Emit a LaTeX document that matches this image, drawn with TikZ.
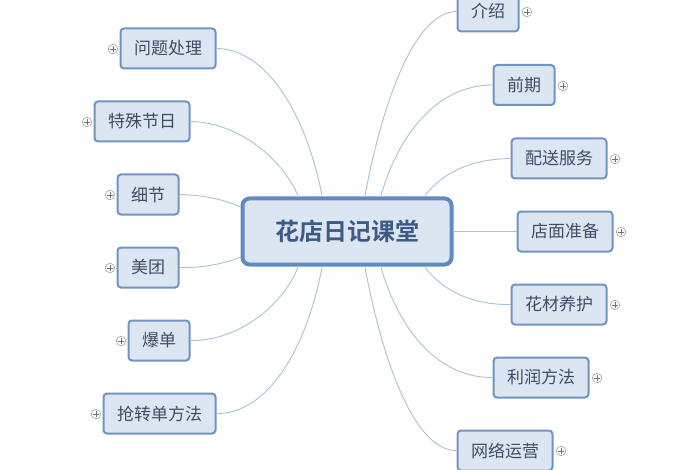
\documentclass[tikz,border=0pt]{standalone}
\usepackage{fontspec}
\newfontfamily\cjk{Noto Sans CJK SC}
\newfontfamily\cjkb{Noto Sans CJK SC Bold}
\definecolor{nfill}{HTML}{DCE6F2}
\definecolor{nedge}{HTML}{6F94C0}
\definecolor{cedge}{HTML}{5F8AC2}
\definecolor{ntext}{HTML}{3F4C66}
\definecolor{ctext}{HTML}{3D5A85}
\definecolor{wire}{HTML}{A8C0DA}
\definecolor{mark}{HTML}{9AA3AE}
\tikzset{
  x=1pt,y=-1pt,
  topic/.style={draw=nedge,line width=2pt,fill=nfill,rounded corners=3.5pt,text=ntext,font=\cjk\fontsize{17}{17}\selectfont,minimum height=40pt,inner sep=0pt,anchor=center},
  hub/.style={draw=cedge,line width=4pt,fill=nfill,rounded corners=7pt,text=ctext,font=\cjkb\fontsize{24}{24}\selectfont,minimum width=209pt,minimum height=66pt,inner sep=0pt},
  wirel/.style={draw=wire,line width=0.9pt},
  fold/.style={circle,draw=mark,line width=0.6pt,fill=white,minimum size=9.5pt,inner sep=0pt,
    path picture={\draw[mark!70!black,line width=0.6pt] ([xshift=-2.6pt]path picture bounding box.center)--([xshift=2.6pt]path picture bounding box.center) ([yshift=-2.6pt]path picture bounding box.center)--([yshift=2.6pt]path picture bounding box.center);}}
}
\begin{document}
\begin{tikzpicture}
\useasboundingbox (0,0) rectangle (700,470);
\clip (0,0) rectangle (700,470);
\node[hub] (c) at (347,231.5) {花店日记课堂};
\node[topic,minimum width=61pt] (r1) at (488,11.5) {介绍};
\node[topic,minimum width=61pt] (r2) at (524,85) {前期};
\node[topic,minimum width=95pt] (r3) at (559,158.5) {配送服务};
\node[topic,minimum width=95pt] (r4) at (565,231.5) {店面准备};
\node[topic,minimum width=95pt] (r5) at (559,304.5) {花材养护};
\node[topic,minimum width=95pt] (r6) at (541,377.5) {利润方法};
\node[topic,minimum width=95pt] (r7) at (505,450.5) {网络运营};
\node[topic,minimum width=95pt] (l1) at (168,48.5) {问题处理};
\node[topic,minimum width=95pt] (l2) at (142,121.5) {特殊节日};
\node[topic,minimum width=61pt] (l3) at (148,194.5) {细节};
\node[topic,minimum width=61pt] (l4) at (148,267.5) {美团};
\node[topic,minimum width=61pt] (l5) at (159,340.5) {爆单};
\node[topic,minimum width=112pt] (l6) at (159.5,413.5) {抢转单方法};
\node[fold] (fr1) at (527,12) {};
\node[fold] (fr2) at (563,86) {};
\node[fold] (fr3) at (615,159) {};
\node[fold] (fr4) at (621,232) {};
\node[fold] (fr5) at (615,305) {};
\node[fold] (fr6) at (597,378) {};
\node[fold] (fr7) at (561,451) {};
\node[fold] (fl1) at (113,49) {};
\node[fold] (fl2) at (87,122) {};
\node[fold] (fl3) at (110,195) {};
\node[fold] (fl4) at (110,268) {};
\node[fold] (fl5) at (121,341) {};
\node[fold] (fl6) at (96,414) {};
\coordinate (a1) at (365,195.5);
\coordinate (a2) at (381,195.5);
\coordinate (a3) at (425,195.5);
\coordinate (a5) at (425,267.5);
\coordinate (a6) at (381,267.5);
\coordinate (a7) at (365,267.5);
\coordinate (b1) at (322,195.5);
\coordinate (b2) at (298,195.5);
\coordinate (b3) at (241,207);
\coordinate (b4) at (241,257);
\coordinate (b5) at (298,267.5);
\coordinate (b6) at (322,267.5);
\draw[wirel] (a1) .. controls (383,100) and (415,12) .. (r1.west);
\draw[wirel] (a2) .. controls (400,130) and (440,85) .. (r2.west);
\draw[wirel] (a3) .. controls (445,170) and (475,159) .. (r3.west);
\draw[wirel] (c.east) -- (r4.west);
\draw[wirel] (a5) .. controls (445,293) and (475,305) .. (r5.west);
\draw[wirel] (a6) .. controls (400,333) and (440,378) .. (r6.west);
\draw[wirel] (a7) .. controls (383,363) and (415,451) .. (r7.west);
\draw[wirel] (b1) .. controls (305,110) and (265,49) .. (l1.east);
\draw[wirel] (b2) .. controls (280,155) and (235,122) .. (l2.east);
\draw[wirel] (b3) .. controls (220,198) and (200,195) .. (l3.east);
\draw[wirel] (b4) .. controls (220,265) and (200,268) .. (l4.east);
\draw[wirel] (b5) .. controls (280,310) and (235,341) .. (l5.east);
\draw[wirel] (b6) .. controls (305,355) and (265,414) .. (l6.east);
\end{tikzpicture}
\end{document}
